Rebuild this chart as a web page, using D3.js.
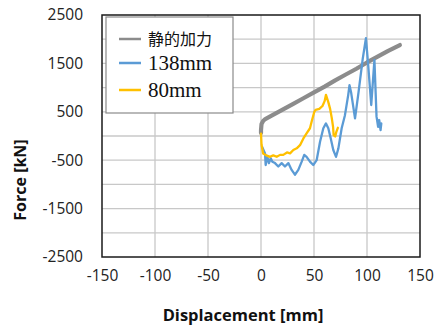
<!DOCTYPE html>
<html>
<head>
<meta charset="utf-8">
<script src="https://cdn.jsdelivr.net/npm/d3@7"></script>
<style>
  html, body { margin: 0; padding: 0; background: #fff; }
  svg { display: block; }
</style>
</head>
<body>
<svg id="chart" width="435" height="329"></svg>
<script>
// Static loading curve (displacement mm, force kN)
const staticX = [0, 0, 0.5, 2, 4, 10, 20, 30, 40, 50, 60, 70, 80, 90, 100, 110, 120, 131];
const staticY = [60, 120, 250, 310, 350, 420, 540, 660, 780, 900, 1020, 1150, 1270, 1390, 1520, 1640, 1760, 1880];

// 138 mm test
const s138X = [1, 3.8, 4.4, 6, 7.5, 9.2, 10.7, 13.2, 16.3, 19.5, 22.6, 25.8, 28.9, 32, 35.2, 38.4, 40.8, 43, 46.2, 49.3, 52.5, 55.7, 58.8, 61.3, 63.5, 65.8, 68.2, 70.8, 73, 76.1, 79.2, 82.3, 83.5, 85, 88.7, 92, 96, 99, 101, 104, 107, 109, 110.5, 111.5, 112.8, 113.5];
const s138Y = [-220, -360, -600, -430, -560, -460, -530, -560, -630, -560, -630, -560, -700, -800, -700, -530, -390, -430, -530, -600, -500, -120, 160, 260, 160, -50, -290, -430, -255, 160, 430, 850, 1050, 900, 365, 900, 1600, 2020, 1500, 640, 1570, 400, 190, 330, 124, 260];

// 80 mm test
const s80X = [0, 0.5, 2, 5, 8.5, 11.6, 14.8, 18, 21, 24.5, 27.4, 30.5, 33.7, 36.8, 40, 43, 46.2, 47.8, 50.3, 51.5, 55, 58, 60, 61.3, 63.5, 65.2, 66.7, 68, 68.5, 70, 71, 72.5];
const s80Y = [50, -180, -360, -400, -430, -400, -430, -390, -390, -340, -360, -290, -255, -190, -50, 55, 160, 300, 500, 540, 560, 620, 720, 850, 700, 560, 380, 190, 20, -10, 80, 170];

const xTicks = [-150, -100, -50, 0, 50, 100, 150];
const yTickLabels = [2500, 1500, 500, -500, -1500, -2500];
const yGrid = d3.range(-2500, 2501, 500);

const seriesNames = ["静的加力", "138mm", "80mm"];
const seriesColors = ["#8c8c8c", "#5b9bd5", "#ffc000"];

const margin = { left: 102, right: 15, top: 15, bottom: 72 };
const W = 435, H = 329;
const plotW = W - margin.left - margin.right;
const plotH = H - margin.top - margin.bottom;

const svg = d3.select("#chart");
const g = svg.append("g").attr("transform", `translate(${margin.left},${margin.top})`);

const x = d3.scaleLinear().domain([-150, 150]).range([0, plotW]);
const y = d3.scaleLinear().domain([-2500, 2500]).range([plotH, 0]);

// grid
g.append("g").selectAll("line.v").data(xTicks.slice(1, -1)).join("line")
  .attr("x1", d => x(d)).attr("x2", d => x(d))
  .attr("y1", 0).attr("y2", plotH)
  .attr("stroke", "#c8c8c8").attr("stroke-width", 1.3);
g.append("g").selectAll("line.h").data(yGrid.slice(1, -1)).join("line")
  .attr("x1", 0).attr("x2", plotW)
  .attr("y1", d => y(d)).attr("y2", d => y(d))
  .attr("stroke", "#c8c8c8").attr("stroke-width", 1.3);

// axes (labels only)
const tickFont = "'Open Sans', 'Liberation Sans', sans-serif";
const xAxis = g.append("g").attr("transform", `translate(0,${plotH})`)
  .call(d3.axisBottom(x).tickValues(xTicks).tickSize(0).tickPadding(13).tickFormat(d3.format("d")));
const yAxis = g.append("g")
  .call(d3.axisLeft(y).tickValues(yTickLabels).tickSize(0).tickPadding(19).tickFormat(d3.format("d")));
[xAxis, yAxis].forEach(a => {
  a.select(".domain").remove();
  a.selectAll("text").attr("font-family", tickFont).attr("font-size", 15.5).attr("fill", "#222")
    .text(function(d) { return String(d); });
});

// series
const line = d3.line().x(d => x(d[0])).y(d => y(d[1]));
const zip = (a, b) => a.map((v, i) => [v, b[i]]);
const series = [
  { data: zip(staticX, staticY), color: seriesColors[0], width: 4.2 },
  { data: zip(s138X, s138Y), color: seriesColors[1], width: 2.3 },
  { data: zip(s80X, s80Y), color: seriesColors[2], width: 2.3 }
];
g.append("g").selectAll("path").data(series).join("path")
  .attr("d", d => line(d.data))
  .attr("fill", "none")
  .attr("stroke", d => d.color)
  .attr("stroke-width", d => d.width)
  .attr("stroke-linejoin", "round")
  .attr("stroke-linecap", "round");

// plot frame
g.append("rect").attr("x", 0).attr("y", 0).attr("width", plotW).attr("height", plotH)
  .attr("fill", "none").attr("stroke", "#1a1a1a").attr("stroke-width", 1.5);

// legend
const leg = svg.append("g").attr("transform", "translate(106,17)");
leg.append("rect").attr("width", 127).attr("height", 96)
  .attr("fill", "#fff").attr("stroke", "#8a8a8a").attr("stroke-width", 1.2);
const rowsY = [22, 46, 73];
const items = leg.selectAll("g.item").data(seriesNames).join("g")
  .attr("transform", (d, i) => `translate(0,${rowsY[i]})`);
items.append("line").attr("x1", 13).attr("x2", 35).attr("y1", 0).attr("y2", 0)
  .attr("stroke", (d, i) => seriesColors[i]).attr("stroke-width", 2.5);
items.append("text").attr("x", 42).attr("y", 0).attr("dy", "0.35em")
  .attr("font-family", "'Liberation Serif', 'Noto Sans CJK JP', serif")
  .attr("font-size", (d, i) => i === 0 ? 16 : 21)
  .attr("fill", "#111")
  .text(d => d);

// axis titles
svg.append("text").attr("x", 243).attr("y", 321).attr("text-anchor", "middle")
  .attr("font-family", tickFont).attr("font-weight", "bold").attr("font-size", 16.5)
  .attr("fill", "#111").text("Displacement [mm]");
svg.append("text").attr("transform", "translate(26,180) rotate(-90)").attr("text-anchor", "middle")
  .attr("font-family", tickFont).attr("font-weight", "bold").attr("font-size", 16)
  .attr("fill", "#111").text("Force [kN]");
</script>
</body>
</html>
